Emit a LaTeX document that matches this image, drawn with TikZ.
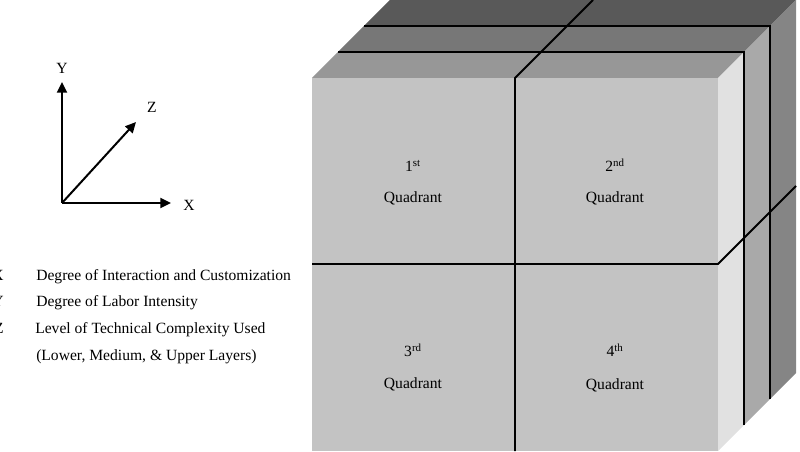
\documentclass[tikz,border=0pt]{standalone}
\usepackage{fontspec}
\setmainfont{Liberation Serif}
\usepackage{tikz}
\usepackage{xcolor}
\usetikzlibrary{arrows.meta,positioning}
\definecolor{frontface}{HTML}{C3C3C3}
\definecolor{topfront}{HTML}{979797}
\definecolor{topmid}{HTML}{777777}
\definecolor{topback}{HTML}{595959}
\definecolor{sidefront}{HTML}{E1E1E1}
\definecolor{sidemid}{HTML}{A9A9A9}
\definecolor{sideback}{HTML}{858585}
\definecolor{ink}{HTML}{000000}
\tikzset{
  face/.style={draw=none},
  divider/.style={draw=ink,line width=1.4pt,line join=miter},
  layerline/.style={draw=ink,line width=1pt},
  axisarr/.style={-{Triangle[length=8pt,width=7.5pt]},line width=1.5pt,draw=ink},
  lbl/.style={font=\fontsize{11.7}{14}\selectfont,inner sep=0pt},
  quad/.style={lbl,align=center}
}

\begin{document}
\begin{tikzpicture}[x=0.75pt,y=-0.75pt]
    \path[use as bounding box] (0,0) rectangle (800,452);

    % top of the cube, back layer first
    \fill[topback]  (364,26) -- (390,0) -- (796,0) -- (770,26) -- cycle;
    \fill[topmid]   (338,52) -- (364,26) -- (770,26) -- (744,52) -- cycle;
    \fill[topfront] (312,78) -- (338,52) -- (744,52) -- (718,78) -- cycle;
    % right side
    \fill[sideback]  (770,26) -- (796,0) -- (796,373) -- (770,399) -- cycle;
    \fill[sidemid]   (744,52) -- (770,26) -- (770,399) -- (744,425) -- cycle;
    \fill[sidefront] (718,78) -- (744,52) -- (744,425) -- (718,451) -- cycle;
    % front
    \fill[frontface] (312,78) rectangle (718,451);

    \draw[layerline] (338,52) -- (744,52) -- (744,425);
    \draw[layerline] (364,26) -- (770,26) -- (770,399);
    \draw[divider] (515,451) -- (515,78) -- (593,0);
    \draw[divider] (312,264) -- (718,264) -- (796,186);

    \node[quad,anchor=base] (q1) at (413,172) {1\textsuperscript{st}};
    \node[quad,anchor=base] (q1b) at (413,203) {Quadrant};
    \node[quad,anchor=base] (q2) at (615,172) {2\textsuperscript{nd}};
    \node[quad,anchor=base] (q2b) at (615,203) {Quadrant};
    \node[quad,anchor=base] (q3) at (413,357) {3\textsuperscript{rd}};
    \node[quad,anchor=base] (q3b) at (413,388) {Quadrant};
    \node[quad,anchor=base] (q4) at (615,357) {4\textsuperscript{th}};
    \node[quad,anchor=base] (q4b) at (615,389) {Quadrant};

    % axes
    \coordinate (o) at (62,203);
    \coordinate (ytip) at (62,82);
    \coordinate (xtip) at (171,203);
    \coordinate (ztip) at (136,122);
    \draw[axisarr] (o) -- (ytip);
    \draw[axisarr] (o) -- (xtip);
    \draw[axisarr] (o) -- (ztip);
    \node[lbl] (ylab) at (62,68) {Y};
    \node[lbl] (zlab) at (152,107) {Z};
    \node[lbl] (xlab) at (189,205) {X};

    % legend
    \node[lbl,anchor=base east] (kx) at (4,281) {X};
    \node[lbl,anchor=base east] (ky) at (4,307) {Y};
    \node[lbl,anchor=base east] (kz) at (4,334) {Z};
    \node[lbl,anchor=base west] (dx) at (36,281) {Degree of Interaction and Customization};
    \node[lbl,anchor=base west] (dy) at (36,307) {Degree of Labor Intensity};
    \node[lbl,anchor=base west] (dz) at (35,334) {Level of Technical Complexity Used};
    \node[lbl,anchor=base west] (dz2) at (36,361) {(Lower, Medium, \& Upper Layers)};
  \end{tikzpicture}
\end{document}
